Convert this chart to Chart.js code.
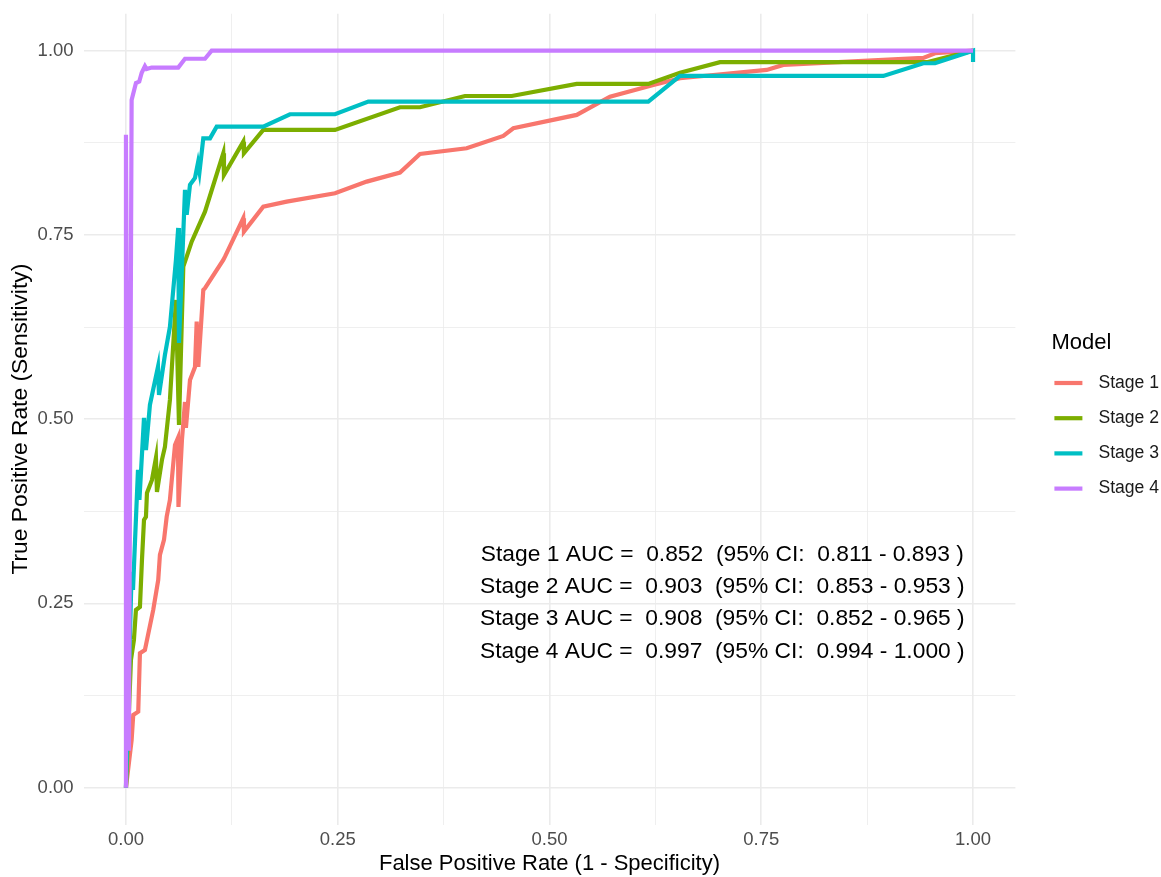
<!DOCTYPE html>
<html>
<head>
<meta charset="utf-8">
<script src="https://cdn.jsdelivr.net/npm/chart.js@4"></script>
<style>
  html, body { margin: 0; padding: 0; background: #fff; }
</style>
</head>
<body>
<canvas id="rocChart" width="1161" height="877"></canvas>
<script>
// ROC points (FPR, TPR)
const stage1Fpr = [0, 0.0067, 0.0086, 0.0145, 0.0165, 0.0224, 0.0322, 0.0381, 0.0401, 0.0449, 0.0481, 0.0519, 0.0579, 0.0614, 0.0620, 0.0661, 0.0697, 0.0708, 0.0756, 0.0815, 0.0835, 0.0854, 0.0913, 0.0933, 0.1149, 0.1169, 0.1385, 0.1393, 0.1621, 0.1897, 0.2468, 0.2842, 0.3235, 0.3471, 0.4022, 0.4455, 0.4573, 0.5321, 0.5714, 0.6226, 0.6541, 0.7564, 0.7760, 0.9413, 0.9551, 1];
const stage1Tpr = [0, 0.0647, 0.0986, 0.1031, 0.1824, 0.1868, 0.2411, 0.2818, 0.3158, 0.3362, 0.3677, 0.3904, 0.4650, 0.4745, 0.3809, 0.4718, 0.5233, 0.4881, 0.5532, 0.5708, 0.6323, 0.5708, 0.6753, 0.6776, 0.7160, 0.7205, 0.7726, 0.7544, 0.7883, 0.7951, 0.8065, 0.8223, 0.8345, 0.8598, 0.8676, 0.8843, 0.8947, 0.9128, 0.9376, 0.9535, 0.9626, 0.9738, 0.9806, 0.9902, 0.9965, 1];

const stage2Fpr = [0, 0.0059, 0.0094, 0.0118, 0.0165, 0.0189, 0.0213, 0.0236, 0.0248, 0.0307, 0.0354, 0.0366, 0.0425, 0.0460, 0.0519, 0.0590, 0.0626, 0.0677, 0.0717, 0.0776, 0.0933, 0.1149, 0.1157, 0.1385, 0.1393, 0.1621, 0.2468, 0.3235, 0.3471, 0.4002, 0.4554, 0.5321, 0.6166, 0.6541, 0.7013, 0.9454, 1];
const stage2Tpr = [0, 0.1733, 0.2004, 0.2411, 0.2452, 0.3090, 0.3632, 0.3674, 0.3999, 0.4175, 0.4474, 0.4012, 0.4447, 0.4623, 0.5261, 0.6617, 0.4922, 0.7069, 0.7205, 0.7408, 0.7815, 0.8608, 0.8313, 0.8765, 0.8608, 0.8924, 0.8924, 0.9232, 0.9232, 0.9385, 0.9385, 0.9548, 0.9548, 0.9701, 0.9843, 0.9843, 1];

const stage3Fpr = [0, 0.0067, 0.0083, 0.0142, 0.0159, 0.0213, 0.0236, 0.0283, 0.0378, 0.0390, 0.0460, 0.0519, 0.0590, 0.0617, 0.0626, 0.0697, 0.0717, 0.0756, 0.0815, 0.0850, 0.0868, 0.0913, 0.0992, 0.1071, 0.1621, 0.1936, 0.2468, 0.2861, 0.6166, 0.6541, 0.8941, 0.9413, 0.9551, 1, 1];
const stage3Tpr = [0, 0.2927, 0.2683, 0.4311, 0.3904, 0.5016, 0.4582, 0.5193, 0.5709, 0.5329, 0.5872, 0.6251, 0.7160, 0.7594, 0.6034, 0.8111, 0.7772, 0.8179, 0.8273, 0.8477, 0.8354, 0.8811, 0.8811, 0.8969, 0.8969, 0.9137, 0.9137, 0.9308, 0.9308, 0.9657, 0.9657, 0.9829, 0.9829, 1, 0.9847];

const stage4Fpr = [0, 0, 0.0035, 0.0067, 0.0118, 0.0157, 0.0186, 0.0224, 0.0244, 0.0303, 0.0617, 0.0697, 0.0933, 0.1012, 1];
const stage4Tpr = [0, 0.886, 0.05, 0.933, 0.956, 0.958, 0.970, 0.979, 0.975, 0.977, 0.977, 0.989, 0.989, 1, 1];

const stageLabels = ["Stage 1", "Stage 2", "Stage 3", "Stage 4"];
const stageColors = ["#F8766D", "#7CAE00", "#00BFC4", "#C77CFF"];

const aucLabels = [
  "Stage 1 AUC =  0.852  (95% CI:  0.811 - 0.893 )",
  "Stage 2 AUC =  0.903  (95% CI:  0.853 - 0.953 )",
  "Stage 3 AUC =  0.908  (95% CI:  0.852 - 0.965 )",
  "Stage 4 AUC =  0.997  (95% CI:  0.994 - 1.000 )"
];
const aucX = 0.704;
const aucY = [0.316, 0.272, 0.229, 0.185];

const majorTicks = [0, 0.25, 0.5, 0.75, 1];
const gridTicks = [0, 0.125, 0.25, 0.375, 0.5, 0.625, 0.75, 0.875, 1];

const FONT = '"Liberation Sans", Arial, sans-serif';

const allFpr = [stage1Fpr, stage2Fpr, stage3Fpr, stage4Fpr];
const allTpr = [stage1Tpr, stage2Tpr, stage3Tpr, stage4Tpr];

const datasets = stageLabels.map((label, i) => ({
  label: label,
  data: allFpr[i].map((x, j) => ({ x: x, y: allTpr[i][j] })),
  borderColor: stageColors[i],
  backgroundColor: stageColors[i],
  borderWidth: 4.2,
  pointRadius: 0,
  showLine: true,
  tension: 0,
  order: 4 - i,
}));

const isMajor = (v) => majorTicks.some((m) => Math.abs(m - v) < 1e-9);

const axisStyle = (titleText, titleSize) => ({
  type: "linear",
  min: -0.05,
  max: 1.05,
  afterBuildTicks: (s) => {
    s.ticks = gridTicks.map((v) => ({ value: v }));
  },
  ticks: {
    autoSkip: false,
    maxRotation: 0,
    color: "#4D4D4D",
    font: { family: FONT, size: 18.5 },
    callback: (v) => (isMajor(v) ? v.toFixed(2) : ""),
  },
  grid: {
    color: "#EBEBEB",
    lineWidth: (ctx) => (ctx.tick && isMajor(ctx.tick.value) ? 1.6 : 0.8),
    drawTicks: false,
  },
  border: { display: false },
  title: {
    display: true,
    text: titleText,
    color: "#000",
    font: { family: FONT, size: titleSize },
  },
});

const xAxis = axisStyle("False Positive Rate (1 - Specificity)", 22);
xAxis.ticks.padding = 4.5;
xAxis.title.padding = { top: 0, bottom: 0 };
xAxis.afterFit = (s) => {
  s.height = 52.5;
  s.paddingLeft = 0;
  s.paddingRight = 0;
};

const yAxis = axisStyle("True Positive Rate (Sensitivity)", 22.8);
yAxis.ticks.padding = 10;
yAxis.title.padding = { top: 7, bottom: 0 };
yAxis.afterFit = (s) => {
  s.width = 83.6;
  s.paddingTop = 0;
  s.paddingBottom = 0;
};

const aucText = {
  id: "aucText",
  afterDatasetsDraw(chart) {
    const { ctx, scales } = chart;
    ctx.save();
    ctx.font = "22.8px " + FONT;
    ctx.fillStyle = "#000";
    ctx.textAlign = "center";
    ctx.textBaseline = "middle";
    aucLabels.forEach((t, i) => {
      ctx.fillText(t, scales.x.getPixelForValue(aucX), scales.y.getPixelForValue(aucY[i]));
    });
    ctx.restore();
  },
};

const sideLegend = {
  id: "sideLegend",
  afterDraw(chart) {
    const { ctx, chartArea } = chart;
    const left = chartArea.right + 36;
    ctx.save();
    ctx.textBaseline = "middle";
    ctx.textAlign = "left";
    ctx.fillStyle = "#000";
    ctx.font = "22px " + FONT;
    ctx.fillText("Model", left, 343);
    chart.data.datasets.forEach((d, i) => {
      const y = 383 + i * 35.2;
      ctx.strokeStyle = d.borderColor;
      ctx.lineWidth = 4.2;
      ctx.beginPath();
      ctx.moveTo(left + 3, y);
      ctx.lineTo(left + 31, y);
      ctx.stroke();
      ctx.fillStyle = "#1a1a1a";
      ctx.font = "17.6px " + FONT;
      ctx.fillText(d.label, left + 47, y);
    });
    ctx.restore();
  },
};

new Chart(document.getElementById("rocChart").getContext("2d"), {
  type: "scatter",
  data: { datasets: datasets },
  options: {
    responsive: false,
    animation: false,
    layout: { padding: { top: 13.8, right: 145.6, left: 0, bottom: 0 } },
    scales: { x: xAxis, y: yAxis },
    plugins: {
      legend: { display: false },
      tooltip: { enabled: false },
    },
  },
  plugins: [aucText, sideLegend],
});
</script>
</body>
</html>
